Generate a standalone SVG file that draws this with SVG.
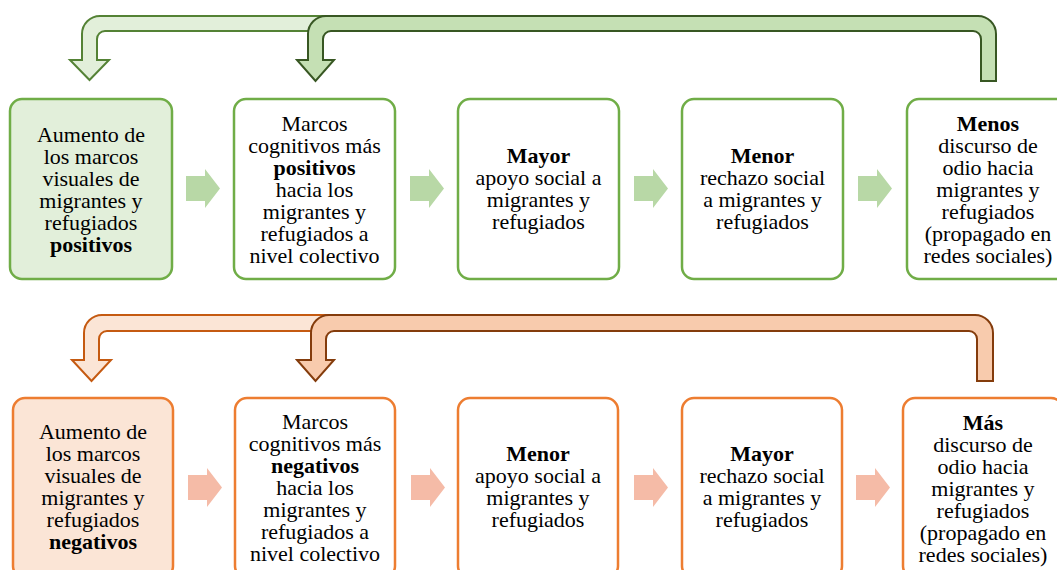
<svg xmlns="http://www.w3.org/2000/svg" width="1057" height="570" viewBox="0 0 1057 570">
<style>
.t{font-family:'Liberation Serif','Times New Roman',serif;font-size:22px;fill:#000;text-anchor:middle}
.b{font-weight:bold}
.gbox{fill:#fff;stroke:#70ad47;stroke-width:2.5}
.obox{fill:#fff;stroke:#ed7d31;stroke-width:2.5}
.gs{fill:#b8d8a6}
.os{fill:#f5bba7}
</style>
<rect width="1057" height="570" fill="#fff"/>
<g id="connectors">
  <path d="M97,60 H109 L89.5,80 L70,60 H82 V34 A18,18 0 0 1 100,16 H520 V31 H105 A8,8 0 0 0 97,39 Z" fill="#e2efda" stroke="#548235" stroke-width="2"/>
  <path d="M981,81 V39 A8,8 0 0 0 973,31 H331 A8,8 0 0 0 323,39 V60 H334 L315.5,81 L297,60 H308 V34 A18,18 0 0 1 326,16 H978 A18,18 0 0 1 996,34 V81 Z" fill="#c5e0b4" stroke="#385723" stroke-width="2"/>
  <path d="M99,360 H111 L91.5,381 L72,360 H84 V333 A18,18 0 0 1 102,315 H520 V331 H107 A8,8 0 0 0 99,339 Z" fill="#fbe5d6" stroke="#c55a11" stroke-width="2"/>
  <path d="M977,381 V339 A8,8 0 0 0 969,331 H334 A8,8 0 0 0 326,339 V360 H334 L315.5,381 L297,360 H311 V333 A18,18 0 0 1 329,315 H975 A18,18 0 0 1 993,333 V381 Z" fill="#f8cbad" stroke="#843c0c" stroke-width="2"/>
  <path class="gs" d="M186,176 H205 V169 L220,188.5 L205,208 V201 H186 Z"/>
  <path class="gs" d="M410,176 H429 V169 L444,188.5 L429,208 V201 H410 Z"/>
  <path class="gs" d="M634,176 H653 V169 L668,188.5 L653,208 V201 H634 Z"/>
  <path class="gs" d="M858,176 H877 V169 L892,188.5 L877,208 V201 H858 Z"/>
  <path class="os" d="M188,475 H207 V468 L222,487.5 L207,507 V500 H188 Z"/>
  <path class="os" d="M411,475 H430 V468 L445,487.5 L430,507 V500 H411 Z"/>
  <path class="os" d="M634,475 H653 V468 L668,487.5 L653,507 V500 H634 Z"/>
  <path class="os" d="M856,475 H875 V468 L890,487.5 L875,507 V500 H856 Z"/>
</g>
<g id="g1">
  <rect x="10" y="99" width="162" height="180" rx="12" fill="#e2efda" stroke="#70ad47" stroke-width="2.5"/>
  <text class="t"><tspan x="91" y="142">Aumento de</tspan><tspan x="91" y="164">los marcos</tspan><tspan x="91" y="186">visuales de</tspan><tspan x="91" y="208">migrantes y</tspan><tspan x="91" y="230">refugiados</tspan><tspan x="91" y="252" class="b">positivos</tspan></text>
</g>
<g id="g2">
  <rect class="gbox" x="234" y="99" width="161" height="180" rx="12"/>
  <text class="t"><tspan x="314.5" y="130.5">Marcos</tspan><tspan x="314.5" y="152.5">cognitivos más</tspan><tspan x="314.5" y="174.5" class="b">positivos</tspan><tspan x="314.5" y="196.5">hacia los</tspan><tspan x="314.5" y="218.5">migrantes y</tspan><tspan x="314.5" y="240.5">refugiados a</tspan><tspan x="314.5" y="262.5">nivel colectivo</tspan></text>
</g>
<g id="g3">
  <rect class="gbox" x="458" y="99" width="161" height="180" rx="12"/>
  <text class="t"><tspan x="538.5" y="163" class="b">Mayor</tspan><tspan x="538.5" y="185">apoyo social a</tspan><tspan x="538.5" y="207">migrantes y</tspan><tspan x="538.5" y="229">refugiados</tspan></text>
</g>
<g id="g4">
  <rect class="gbox" x="682" y="99" width="161" height="180" rx="12"/>
  <text class="t"><tspan x="762.5" y="163" class="b">Menor</tspan><tspan x="762.5" y="185">rechazo social</tspan><tspan x="762.5" y="207">a migrantes y</tspan><tspan x="762.5" y="229">refugiados</tspan></text>
</g>
<g id="g5">
  <rect class="gbox" x="907" y="99" width="162" height="180" rx="12"/>
  <text class="t"><tspan x="988" y="130.5" class="b">Menos</tspan><tspan x="988" y="152.5">discurso de</tspan><tspan x="988" y="174.5">odio hacia</tspan><tspan x="988" y="196.5">migrantes y</tspan><tspan x="988" y="218.5">refugiados</tspan><tspan x="988" y="240.5">(propagado en</tspan><tspan x="988" y="262.5">redes sociales)</tspan></text>
</g>
<g id="o1">
  <rect x="13" y="398" width="160" height="180" rx="12" fill="#fbe5d6" stroke="#ed7d31" stroke-width="2.5"/>
  <text class="t"><tspan x="93" y="439">Aumento de</tspan><tspan x="93" y="461">los marcos</tspan><tspan x="93" y="483">visuales de</tspan><tspan x="93" y="505">migrantes y</tspan><tspan x="93" y="527">refugiados</tspan><tspan x="93" y="549" class="b">negativos</tspan></text>
</g>
<g id="o2">
  <rect class="obox" x="235" y="398" width="160" height="180" rx="12"/>
  <text class="t"><tspan x="315" y="428.5">Marcos</tspan><tspan x="315" y="450.5">cognitivos más</tspan><tspan x="315" y="472.5" class="b">negativos</tspan><tspan x="315" y="494.5">hacia los</tspan><tspan x="315" y="516.5">migrantes y</tspan><tspan x="315" y="538.5">refugiados a</tspan><tspan x="315" y="560.5">nivel colectivo</tspan></text>
</g>
<g id="o3">
  <rect class="obox" x="458" y="398" width="160" height="180" rx="12"/>
  <text class="t"><tspan x="538" y="461" class="b">Menor</tspan><tspan x="538" y="483">apoyo social a</tspan><tspan x="538" y="505">migrantes y</tspan><tspan x="538" y="527">refugiados</tspan></text>
</g>
<g id="o4">
  <rect class="obox" x="682" y="398" width="160" height="180" rx="12"/>
  <text class="t"><tspan x="762" y="461" class="b">Mayor</tspan><tspan x="762" y="483">rechazo social</tspan><tspan x="762" y="505">a migrantes y</tspan><tspan x="762" y="527">refugiados</tspan></text>
</g>
<g id="o5">
  <rect class="obox" x="903" y="398" width="160" height="180" rx="12"/>
  <text class="t"><tspan x="983" y="429.5" class="b">Más</tspan><tspan x="983" y="451.5">discurso de</tspan><tspan x="983" y="473.5">odio hacia</tspan><tspan x="983" y="495.5">migrantes y</tspan><tspan x="983" y="517.5">refugiados</tspan><tspan x="983" y="539.5">(propagado en</tspan><tspan x="983" y="561.5">redes sociales)</tspan></text>
</g>
</svg>
